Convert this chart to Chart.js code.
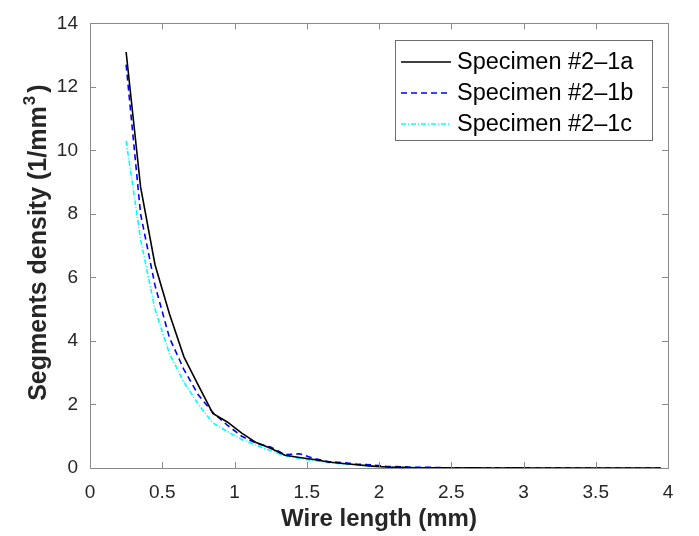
<!DOCTYPE html>
<html>
<head>
<meta charset="utf-8">
<script src="https://cdn.jsdelivr.net/npm/chart.js@4/dist/chart.umd.min.js"></script>
<style>
  body { margin: 0; background: #fff; }
  #wrap { width: 699px; height: 536px; }
</style>
</head>
<body>
<div id="wrap"><canvas id="chart"></canvas></div>
<script>
// wire length bins (mm)
var wireLength = [0.25, 0.35, 0.45, 0.55, 0.65, 0.75, 0.85, 0.95, 1.05, 1.15,
                  1.25, 1.35, 1.45, 1.55, 1.65, 1.75, 1.85, 1.95, 2.05, 2.15,
                  2.25, 2.35, 2.45, 2.55, 2.65, 2.75, 2.85, 2.95, 3.05, 3.15,
                  3.25, 3.35, 3.45, 3.55, 3.65, 3.75, 3.85, 3.95];

var specimenA = [13.1, 8.85, 6.4, 4.85, 3.5, 2.6, 1.72, 1.45, 1.1, 0.8,
                 0.62, 0.4, 0.33, 0.27, 0.19, 0.14, 0.1, 0.06, 0.03, 0.02,
                 0.01, 0.01, 0.01, 0, 0.01, 0, 0, 0.01, 0, 0,
                 0, 0, 0, 0, 0, 0, 0, 0];
var specimenB = [12.7, 8.0, 5.75, 4.1, 3.1, 2.3, 1.75, 1.35, 1.0, 0.78,
                 0.66, 0.42, 0.45, 0.3, 0.2, 0.17, 0.12, 0.1, 0.05, 0.04,
                 0.02, 0.02, 0.01, 0.01, 0.01, 0.01, 0, 0.01, 0, 0,
                 0.01, 0, 0, 0, 0, 0, 0, 0];
var specimenC = [10.3, 7.2, 5.0, 3.6, 2.7, 2.0, 1.42, 1.15, 0.9, 0.72,
                 0.55, 0.38, 0.3, 0.23, 0.17, 0.13, 0.09, 0.06, 0.04, 0.03,
                 0.02, 0.01, 0.01, 0.01, 0, 0, 0, 0, 0, 0,
                 0, 0, 0, 0, 0, 0, 0, 0];

var seriesNames = ['Specimen #2\u20131a', 'Specimen #2\u20131b', 'Specimen #2\u20131c'];
var xTicks = [0, 0.5, 1, 1.5, 2, 2.5, 3, 3.5, 4];
var yTicks = [0, 2, 4, 6, 8, 10, 12, 14];

function points(ys) {
  return wireLength.map(function(x, i) { return {x: x, y: ys[i]}; });
}

var FONT = '"Liberation Sans", Arial, sans-serif';
var axisColor = '#8a8a8a';
var textColor = '#262626';

// MATLAB-like box with inward ticks, y title with superscript, legend
var boxPlugin = {
  id: 'box',
  afterDraw: function(chart) {
    var ctx = chart.ctx, a = chart.chartArea;
    var xs = chart.scales.x, ys = chart.scales.y;
    var tl = 6;
    ctx.save();
    ctx.strokeStyle = axisColor;
    ctx.lineWidth = 1;
    ctx.strokeRect(Math.round(a.left) + 0.5, Math.round(a.top) + 0.5,
                   Math.round(a.right - a.left), Math.round(a.bottom - a.top));
    ctx.beginPath();
    xTicks.forEach(function(v) {
      var p = Math.round(xs.getPixelForValue(v)) + 0.5;
      ctx.moveTo(p, a.bottom); ctx.lineTo(p, a.bottom - tl);
      ctx.moveTo(p, a.top); ctx.lineTo(p, a.top + tl);
    });
    yTicks.forEach(function(v) {
      var p = Math.round(ys.getPixelForValue(v)) + 0.5;
      ctx.moveTo(a.left, p); ctx.lineTo(a.left + tl, p);
      ctx.moveTo(a.right, p); ctx.lineTo(a.right - tl, p);
    });
    ctx.stroke();

    // y title: Segments density (1/mm^3)
    var t1 = 'Segments density (1/mm', t2 = '3', t3 = ')';
    var big = 'bold 25px ' + FONT, small = 'bold 17px ' + FONT;
    ctx.font = big; var w1 = ctx.measureText(t1).width, w3 = ctx.measureText(t3).width;
    ctx.font = small; var w2 = ctx.measureText(t2).width;
    var cy = (a.top + a.bottom) / 2 - 3;
    ctx.translate(46, cy);
    ctx.rotate(-Math.PI / 2);
    ctx.fillStyle = textColor;
    ctx.textBaseline = 'alphabetic';
    ctx.textAlign = 'left';
    var sx = -(w1 + w2 + w3 + 4) / 2;
    ctx.font = big; ctx.fillText(t1, sx, 0);
    ctx.font = small; ctx.fillText(t2, sx + w1 + 1, -11);
    ctx.font = big; ctx.fillText(t3, sx + w1 + w2 + 4, 0);
    ctx.setTransform(1, 0, 0, 1, 0, 0);

    // legend
    var lx = 395.5, ly = 40.5, lw = 257, lh = 100;
    ctx.fillStyle = '#fff';
    ctx.fillRect(lx, ly, lw, lh);
    ctx.strokeStyle = '#6e6e6e';
    ctx.lineWidth = 1;
    ctx.strokeRect(lx, ly, lw, lh);
    ctx.font = '23.5px ' + FONT;
    ctx.textBaseline = 'middle';
    chart.data.datasets.forEach(function(ds, i) {
      var y = 62 + i * 31;
      ctx.strokeStyle = ds.borderColor;
      ctx.lineWidth = ds.borderWidth;
      ctx.setLineDash(ds.borderDash || []);
      ctx.beginPath();
      ctx.moveTo(401, y); ctx.lineTo(451, y);
      ctx.stroke();
      ctx.setLineDash([]);
      ctx.fillStyle = '#000';
      ctx.fillText(ds.label, 457, y + 1);
    });
    ctx.restore();
  }
};

var ctx = document.getElementById('chart');
var myChart = new Chart(ctx, {
  type: 'line',
  data: {
    datasets: [
      { label: seriesNames[0], data: points(specimenA), borderColor: '#000000',
        borderWidth: 1.6, pointRadius: 0, tension: 0 },
      { label: seriesNames[1], data: points(specimenB), borderColor: '#0000ff',
        borderWidth: 1.6, borderDash: [6, 4], pointRadius: 0, tension: 0 },
      { label: seriesNames[2], data: points(specimenC), borderColor: '#00ffff',
        borderWidth: 1.6, borderDash: [5, 2, 1, 2], pointRadius: 0, tension: 0 }
    ]
  },
  options: {
    responsive: true,
    maintainAspectRatio: false,
    animation: false,
    layout: { padding: { top: 18, right: 31, left: 0, bottom: 0 } },
    plugins: { legend: { display: false }, tooltip: { enabled: false } },
    scales: {
      x: {
        type: 'linear', min: 0, max: 4,
        afterFit: function(s) { s.height = 68; },
        afterBuildTicks: function(s) { s.ticks = xTicks.map(function(v) { return {value: v}; }); },
        grid: { display: false, drawTicks: false },
        border: { display: false },
        ticks: { padding: 13, color: textColor, maxRotation: 0,
                 callback: function(v) { return String(v); },
                 font: { family: FONT, size: 19 } },
        title: { display: true, text: 'Wire length (mm)', color: textColor,
                 padding: { top: 0, bottom: 2 },
                 font: { family: FONT, size: 24, weight: 'bold' } }
      },
      y: {
        min: 0, max: 14,
        afterFit: function(s) { s.width = 90; },
        afterBuildTicks: function(s) { s.ticks = yTicks.map(function(v) { return {value: v}; }); },
        grid: { display: false, drawTicks: false },
        border: { display: false },
        ticks: { padding: 12, color: textColor,
                 callback: function(v) { return String(v); },
                 font: { family: FONT, size: 19 } },
        title: { display: false }
      }
    }
  },
  plugins: [boxPlugin]
});
</script>
</body>
</html>
